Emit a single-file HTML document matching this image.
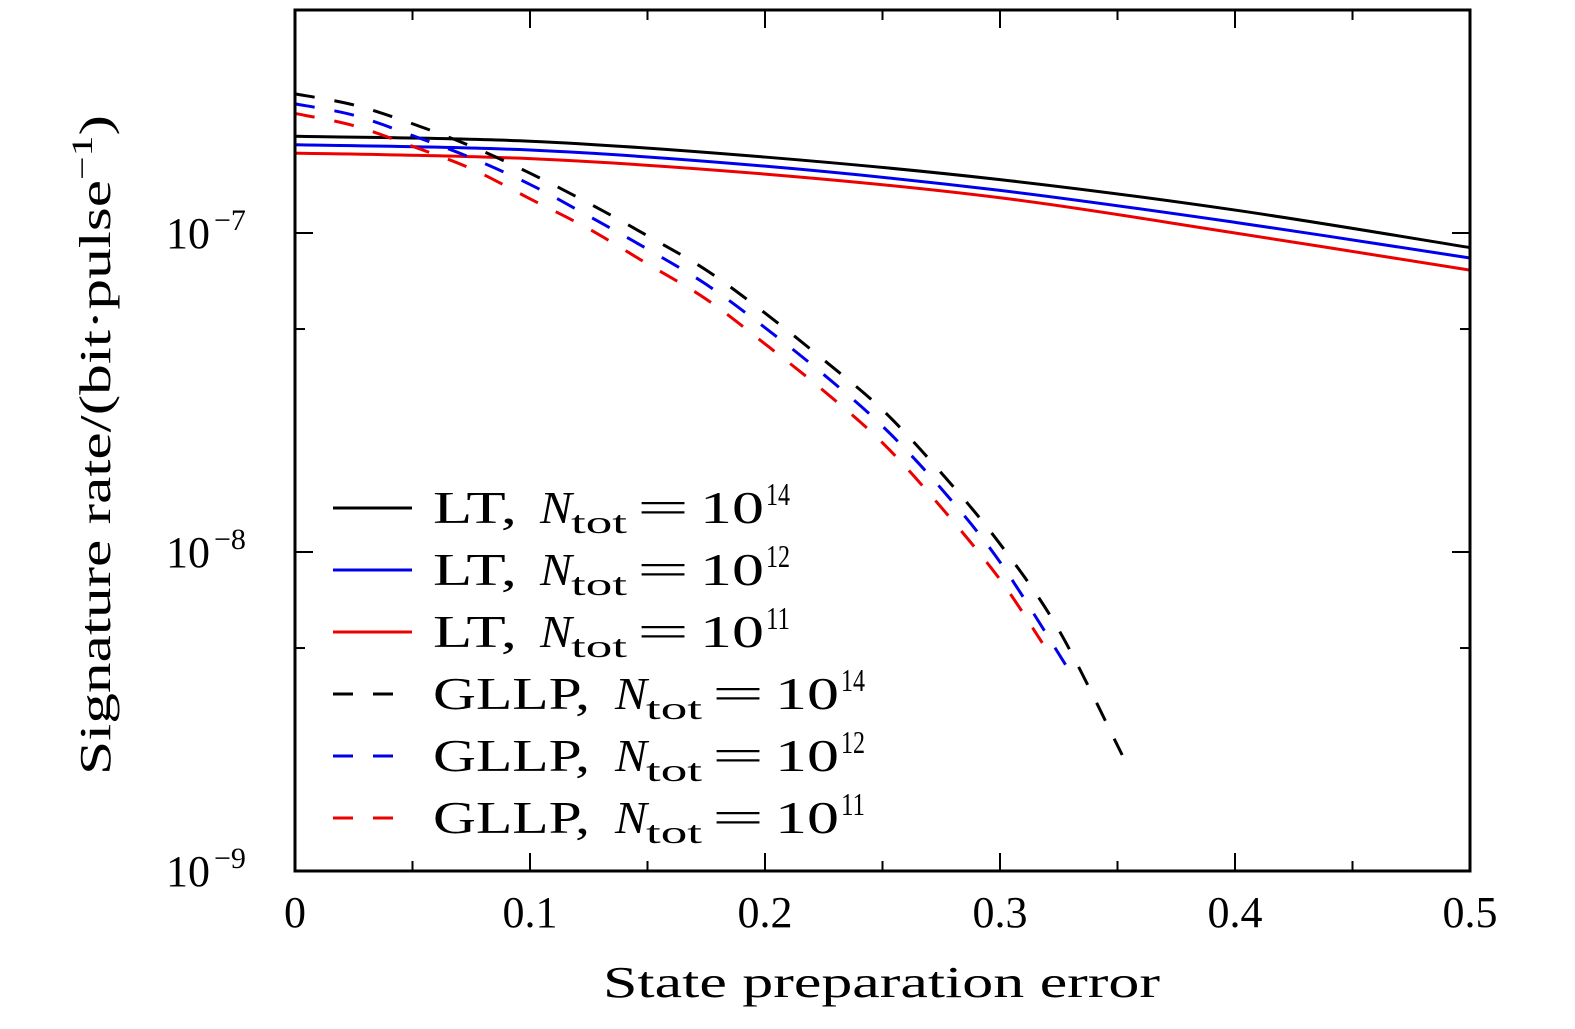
<!DOCTYPE html>
<html><head><meta charset="utf-8"><style>
body{margin:0;background:#fff}
svg text{font-family:"Liberation Serif",serif;fill:#000}
</style></head><body>
<svg id="c" width="1575" height="1024">
<text x="110" y="118" font-size="44" textLength="660" lengthAdjust="spacingAndGlyphs" transform="rotate(-90 110 443) translate(-332 325)">Signature rate/(bit·pulse<tspan dy="-18" font-size="30">−1</tspan><tspan dy="18">)</tspan></text>
<text x="603" y="997" font-size="44" textLength="557" lengthAdjust="spacingAndGlyphs">State preparation error</text>
</svg>
<script>
const ltX=[0,0.1,0.2,0.3,0.4,0.5];
const lt14=[2.01e-7,1.94e-7,1.73e-7,1.47e-7,1.18e-7,9.0e-8];
const lt12=[1.89e-7,1.82e-7,1.62e-7,1.36e-7,1.08e-7,8.35e-8];
const lt11=[1.78e-7,1.71e-7,1.53e-7,1.29e-7,1.0e-7,7.65e-8];
const g14X=[0,0.025,0.05,0.075,0.1,0.125,0.15,0.175,0.2,0.225,0.25,0.275,0.3,0.325,0.352];
const g14=[2.73e-7,2.52e-7,2.2e-7,1.87e-7,1.54e-7,1.24e-7,9.8e-8,7.65e-8,5.61e-8,4.0e-8,2.79e-8,1.77e-8,1.06e-8,5.7e-9,2.31e-9];
const g12X=[0,0.025,0.05,0.075,0.1,0.125,0.15,0.175,0.2,0.225,0.25,0.275,0.3,0.328];
const g12=[2.54e-7,2.34e-7,2.02e-7,1.72e-7,1.42e-7,1.13e-7,8.9e-8,6.9e-8,5.05e-8,3.6e-8,2.48e-8,1.58e-8,9.3e-9,4.42e-9];
const g11X=[0,0.025,0.05,0.075,0.1,0.125,0.15,0.175,0.2,0.225,0.25,0.275,0.3,0.318];
const g11=[2.37e-7,2.17e-7,1.87e-7,1.59e-7,1.28e-7,1.03e-7,8.0e-8,6.2e-8,4.49e-8,3.2e-8,2.2e-8,1.38e-8,8.2e-9,5.19e-9];
const xTicks=[0,0.1,0.2,0.3,0.4,0.5];
const xTickLabels=["0","0.1","0.2","0.3","0.4","0.5"];
const yExp=[-9,-8,-7];
const legendNames=["LT","LT","LT","GLLP","GLLP","GLLP"];
const legendExps=["14","12","11","14","12","11"];

const NS="http://www.w3.org/2000/svg",svg=document.getElementById('c');
const L=295,R=1470,T=10,B=871,decade=319;
const sx=v=>L+v/0.5*(R-L);
const sy=v=>B-(Math.log10(v)+9)*decade;
function mk(t,a){const e=document.createElementNS(NS,t);for(const k in a)e.setAttribute(k,a[k]);svg.appendChild(e);return e;}
function smooth(pts){let d=`M${pts[0][0]},${pts[0][1]}`;for(let i=0;i<pts.length-1;i++){const p0=pts[i-1]||pts[i],p1=pts[i],p2=pts[i+1],p3=pts[i+2]||p2;
d+=` C${p1[0]+(p2[0]-p0[0])/6},${p1[1]+(p2[1]-p0[1])/6} ${p2[0]-(p3[0]-p1[0])/6},${p2[1]-(p3[1]-p1[1])/6} ${p2[0]},${p2[1]}`;}return d;}
function series(xs,ys,col,dash,name){const p=mk('path',{d:smooth(xs.map((x,i)=>[sx(x),sy(ys[i])])),fill:'none',stroke:col,'stroke-width':3,'stroke-dasharray':dash?'20,20':'none'});

}
series(ltX,lt14,'#000',false,'lt-1e14-line');
series(ltX,lt12,'#0000ee',false,'lt-1e12-line');
series(ltX,lt11,'#ee0000',false,'lt-1e11-line');
series(g14X,g14,'#000',true,'gllp-1e14-line');
series(g12X,g12,'#0000ee',true,'gllp-1e12-line');
series(g11X,g11,'#ee0000',true,'gllp-1e11-line');
const box=mk('rect',{x:L,y:T,width:R-L,height:B-T,fill:'none',stroke:'#000','stroke-width':3});


for(let i=0;i<=10;i++){const x=sx(i*0.05),len=i%2?10:18;
mk('line',{x1:x,x2:x,y1:B,y2:B-len,stroke:'#000','stroke-width':2});
mk('line',{x1:x,x2:x,y1:T,y2:T+len,stroke:'#000','stroke-width':2});}
xTicks.forEach((v,i)=>{const t=mk('text',{x:sx(v),y:927,'font-size':44,'text-anchor':'middle'});t.textContent=xTickLabels[i];

});
yExp.forEach(e=>{const y=sy(Math.pow(10,e));
mk('line',{x1:L,x2:L+18,y1:y,y2:y,stroke:'#000','stroke-width':2});
mk('line',{x1:R,x2:R-18,y1:y,y2:y,stroke:'#000','stroke-width':2});
const m=sy(5*Math.pow(10,e));
mk('line',{x1:L,x2:L+10,y1:m,y2:m,stroke:'#000','stroke-width':2});
mk('line',{x1:R,x2:R-10,y1:m,y2:m,stroke:'#000','stroke-width':2});
const t=mk('text',{x:166,y:y+15,'font-size':44});t.innerHTML='10<tspan dx="4" dy="-18" font-size="30">−'+(-e)+'</tspan>';

});
const cols=['#000','#0000ee','#ee0000'];
legendNames.forEach((nm,i)=>{const y=508+i*62,off=i>=3?75:0;
mk('line',{x1:333,x2:412,y1:y,y2:y,stroke:cols[i%3],'stroke-width':3,'stroke-dasharray':i>=3?'20,20':'none'});
const t=mk('text',{x:433,y:y+15,'font-size':46,lengthAdjust:'spacingAndGlyphs'});
t.innerHTML='<tspan textLength="'+(i>=3?157:84)+'" lengthAdjust="spacingAndGlyphs">'+nm+',</tspan><tspan x="'+(540+off)+'" font-style="italic" textLength="32" lengthAdjust="spacingAndGlyphs">N</tspan><tspan x="'+(571+off)+'" font-size="32" dy="10" textLength="56" lengthAdjust="spacingAndGlyphs">tot</tspan><tspan x="'+(637+off)+'" dy="-10" textLength="52" lengthAdjust="spacingAndGlyphs">=</tspan><tspan x="'+(700+off)+'" textLength="64" lengthAdjust="spacingAndGlyphs">10</tspan><tspan x="'+(766+off)+'" dy="-18" font-size="32" textLength="24" lengthAdjust="spacingAndGlyphs">'+legendExps[i]+'</tspan>';

});
</script>
</body></html>
